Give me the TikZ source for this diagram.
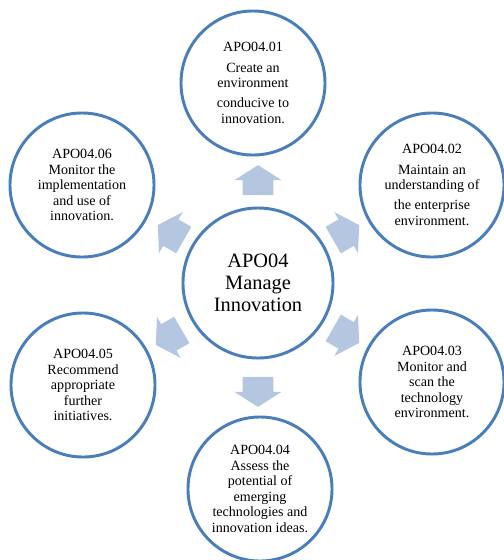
\documentclass[tikz,border=0pt]{standalone}
\usepackage{fontspec}
\setmainfont{Liberation Serif}
\usetikzlibrary{shapes.arrows}
\definecolor{ringblue}{HTML}{4A7EBB}
\definecolor{arrowblue}{HTML}{B4C6E0}
\tikzset{
ring/.style={draw=ringblue, line width=2.1pt, circle, minimum size=3.6cm, inner sep=0pt, align=center, font=\fontsize{10}{11}\selectfont},
core/.style={ring, minimum size=3.75cm, font=\fontsize{14.5}{15.5}\selectfont},
pointer/.style={single arrow, fill=arrowblue, draw=none, inner xsep=0pt, inner ysep=0.375cm, minimum height=0.75cm, single arrow head extend=0.21cm, single arrow tip angle=115},
}

\begin{document}
\begin{tikzpicture}[x=0.025cm, y=-0.025cm]
    \useasboundingbox (0,0) rectangle (504,560);

    %centre node
    \node[core] (hub) at (258,283) {APO04\\ Manage\\ Innovation};

    %outer nodes, clockwise from the top
    \node[ring] (c1) at (253,83)  {APO04.01\\[3.5pt] Create an\\ environment\\[3.5pt] conducive to\\ innovation.};
    \node[ring] (c2) at (432,185) {APO04.02\\[3.5pt] Maintain an\\ understanding of\\[3.5pt] the enterprise\\ environment.};
    \node[ring] (c3) at (432,382) {APO04.03\\ Monitor and\\ scan the\\ technology\\ environment.};
    \node[ring] (c4) at (260,489) {APO04.04\\ Assess the\\ potential of\\ emerging\\ technologies and\\ innovation ideas.};
    \node[ring] (c5) at (83,385)  {APO04.05\\ Recommend\\ appropriate\\ further\\ initiatives.};
    \node[ring] (c6) at (82,185)  {APO04.06\\ Monitor the\\ implementation\\ and use of\\ innovation.};

    %block arrows pointing outwards
    \node[pointer, rotate=90]  (a1) at (258,185) {};
    \node[pointer, rotate=30]  (a2) at (342,235) {};
    \node[pointer, rotate=-30] (a3) at (342,333) {};
    \node[pointer, rotate=-90] (a4) at (258,387) {};
    \node[pointer, rotate=210] (a5) at (173,335) {};
    \node[pointer, rotate=150] (a6) at (175,235) {};
\end{tikzpicture}
\end{document}
